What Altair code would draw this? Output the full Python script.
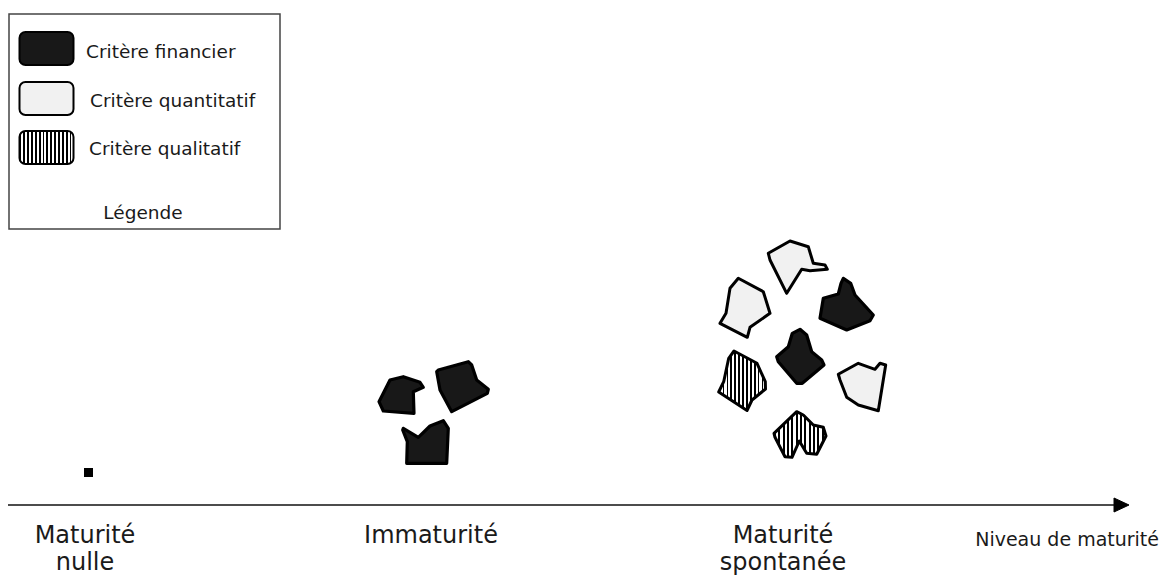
import altair as alt
import pandas as pd

# ---------------- data (diagram coordinates, y pointing down) ----------------
# Axis labels
label_text = ["Maturité", "nulle", "Immaturité", "Maturité", "spontanée"]
label_x = [85, 85, 431, 783, 783]
label_y = [536, 563, 536, 536, 563]

axis_title = ["Niveau de maturité"]
axis_title_x = [1159]
axis_title_y = [540]

# Legend
legend_labels = ["Critère financier", "Critère quantitatif", "Critère qualitatif"]
legend_cats = ["financier", "quantitatif", "qualitatif"]
legend_label_x = [86, 90, 89]
legend_label_y = [52, 101, 149]
legend_sw_top = [32, 82, 131]
legend_sw_bottom = [65, 115, 164]
legend_title = ["Légende"]

# Shapes (vertex lists) -- Immaturité group
immat_left = [(390, 380), (403.3, 376.7), (420, 382.3), (423.3, 387.3), (413.3, 391.7),
              (414, 413.3), (383.3, 411), (379, 401.7)]
immat_right = [(438.3, 370), (468.3, 361.7), (471.7, 365), (476.7, 380), (488.3, 389.3),
               (487.3, 393.3), (451.7, 411.7), (440, 390), (436.7, 371.7)]
immat_bottom = [(403.3, 428.3), (418.3, 437.3), (430, 426), (443.3, 420.7), (448.3, 428.3),
                (446.7, 463.3), (406.7, 463.3), (407.3, 441.7), (402.7, 430)]

# Maturité spontanée cluster
spont_top_q = [(768.3, 253.3), (790, 241), (808.3, 246.7), (813.3, 263.3), (825, 265),
               (827.3, 269.3), (810, 270.7), (801.7, 269.3), (786.7, 293.3), (770, 260)]
spont_left_q = [(738.3, 278.3), (763.3, 291.7), (770, 313.3), (750, 327.3), (747.3, 337.3),
                (720, 323.3), (726, 313.3), (730, 288.3)]
spont_right_f = [(843.3, 278.3), (850.7, 283.3), (855, 295), (873.3, 315), (870, 320.7),
                 (846.7, 330), (820, 318.3), (823.3, 298.3), (838.3, 294), (841, 283.3)]
spont_center_f = [(800, 329.3), (792.3, 333.3), (788.3, 346.7), (776.7, 356.7), (778.3, 361.7),
                  (796.7, 383.3), (802.3, 383.3), (824, 365), (821.7, 360), (811.7, 351.7),
                  (806.7, 335)]
spont_left_l = [(734, 351), (757, 363.3), (765.3, 381.7), (765.5, 389), (752, 400),
                (747, 410.5), (718.7, 392), (723.7, 381.7), (728.7, 358.3)]
spont_right_q = [(838.3, 374.3), (858.3, 363.3), (875, 369.3), (880, 363.3), (885.7, 365),
                 (878.3, 410.7), (858.3, 405), (846.7, 397.3), (840, 380)]
spont_bottom_l = [(774, 433.3), (796.7, 411.7), (803.3, 415), (813.3, 425), (823.3, 427.3),
                  (826, 436), (816.7, 454.3), (806.7, 453.3), (799.3, 441), (792, 457.3),
                  (785, 456.7), (775, 437.3)]

shapes = [
    ("financier", immat_left), ("financier", immat_right), ("financier", immat_bottom),
    ("quantitatif", spont_top_q), ("quantitatif", spont_left_q), ("financier", spont_right_f),
    ("financier", spont_center_f), ("qualitatif", spont_left_l), ("quantitatif", spont_right_q),
    ("qualitatif", spont_bottom_l),
]

arrow_head = [(1114, 498), (1129, 505), (1114, 512)]
nulle_marker = {"x": [84], "x2": [93], "y": [468], "y2": [477]}

# ---------------- helpers ----------------
XS = alt.Scale(domain=[8, 1159], zero=False, nice=False)
YS = alt.Scale(domain=[8, 575], zero=False, nice=False, reverse=True)
FONT = "DejaVu Sans"
INK = "#1a1a1a"


def feature(cat, pts):
    ring = [list(p) for p in pts] + [list(pts[0])]
    return {"type": "Feature", "properties": {"critere": cat},
            "geometry": {"type": "Polygon", "coordinates": [ring]}}


def stripes(n, frac=0.45):
    stops = []
    for k in range(n):
        a, b, c = k / n, (k + frac) / n, (k + 1) / n
        stops += [alt.GradientStop(color="black", offset=a),
                  alt.GradientStop(color="black", offset=b),
                  alt.GradientStop(color="white", offset=b),
                  alt.GradientStop(color="white", offset=c)]
    return alt.LinearGradient(gradient="linear", stops=stops, x1=0, x2=1, y1=0, y2=0)


FILLS = {"financier": "#181818", "quantitatif": "#f1f1f1", "qualitatif": stripes(12)}
SW_FILLS = {"financier": "#181818", "quantitatif": "#f1f1f1", "qualitatif": stripes(14)}


def shape_layer(feats, fill, sw=2.2):
    return alt.Chart(alt.Data(values=feats)).mark_geoshape(
        fill=fill, stroke="black", strokeWidth=sw, strokeJoin="round"
    ).project(type="identity", scale=1, translate=[-8, -8])


# ---------------- layers ----------------
layers = []

# legend box
box_df = pd.DataFrame({"x": [9], "x2": [280], "y": [14], "y2": [229]})
layers.append(alt.Chart(box_df).mark_rect(fill="white", stroke="#444", strokeWidth=1.5).encode(
    x=alt.X("x:Q", scale=XS, axis=None), x2="x2:Q",
    y=alt.Y("y:Q", scale=YS, axis=None), y2="y2:Q"))

# legend swatches
for cat, top, bot in zip(legend_cats, legend_sw_top, legend_sw_bottom):
    sdf = pd.DataFrame({"x": [19.5], "x2": [73.5], "y": [top], "y2": [bot]})
    layers.append(alt.Chart(sdf).mark_rect(fill=SW_FILLS[cat], stroke="black", strokeWidth=2,
                                           cornerRadius=6).encode(
        x=alt.X("x:Q", scale=XS, axis=None), x2="x2:Q",
        y=alt.Y("y:Q", scale=YS, axis=None), y2="y2:Q"))

# legend labels
leg_df = pd.DataFrame({"t": legend_labels, "x": legend_label_x, "y": legend_label_y})
layers.append(alt.Chart(leg_df).mark_text(align="left", baseline="middle", font=FONT,
                                          fontSize=18.5, color=INK).encode(
    x=alt.X("x:Q", scale=XS, axis=None), y=alt.Y("y:Q", scale=YS, axis=None), text="t:N"))
title_df = pd.DataFrame({"t": legend_title, "x": [143], "y": [213]})
layers.append(alt.Chart(title_df).mark_text(align="center", baseline="middle", font=FONT,
                                            fontSize=18.5, color=INK).encode(
    x=alt.X("x:Q", scale=XS, axis=None), y=alt.Y("y:Q", scale=YS, axis=None), text="t:N"))

# axis line
rule_df = pd.DataFrame({"x": [8], "x2": [1116], "y": [505]})
layers.append(alt.Chart(rule_df).mark_rule(color="#111", strokeWidth=1.6).encode(
    x=alt.X("x:Q", scale=XS, axis=None), x2="x2:Q", y=alt.Y("y:Q", scale=YS, axis=None)))
layers.append(shape_layer([feature("arrow", arrow_head)], "black", 1))

# axis labels
lab_df = pd.DataFrame({"t": label_text, "x": label_x, "y": label_y})
layers.append(alt.Chart(lab_df).mark_text(align="center", baseline="middle", font=FONT,
                                          fontSize=24, color=INK).encode(
    x=alt.X("x:Q", scale=XS, axis=None), y=alt.Y("y:Q", scale=YS, axis=None), text="t:N"))
ax_df = pd.DataFrame({"t": axis_title, "x": axis_title_x, "y": axis_title_y})
layers.append(alt.Chart(ax_df).mark_text(align="right", baseline="middle", font=FONT,
                                         fontSize=19, color=INK).encode(
    x=alt.X("x:Q", scale=XS, axis=None), y=alt.Y("y:Q", scale=YS, axis=None), text="t:N"))

# "maturité nulle" marker
layers.append(alt.Chart(pd.DataFrame(nulle_marker)).mark_rect(color="black").encode(
    x=alt.X("x:Q", scale=XS, axis=None), x2="x2:Q",
    y=alt.Y("y:Q", scale=YS, axis=None), y2="y2:Q"))

# criteria shapes
for cat in legend_cats:
    feats = [feature(c, pts) for c, pts in shapes if c == cat]
    layers.append(shape_layer(feats, FILLS[cat], 3 if cat != "financier" else 3.2))

chart = alt.layer(*layers).properties(
    width=1151, height=567, padding=0,
    autosize=alt.AutoSizeParams(type="none"),
    background="white",
).configure_view(stroke=None)

chart.save("out.html", embed_options={"renderer": "svg", "actions": False})
